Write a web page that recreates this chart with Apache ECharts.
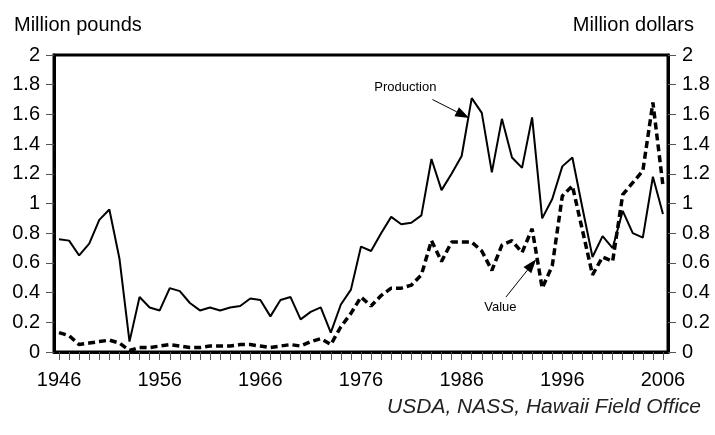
<!DOCTYPE html>
<html>
<head>
<meta charset="utf-8">
<script src="https://cdn.jsdelivr.net/npm/echarts@6/dist/echarts.min.js"></script>
<style>
html,body{margin:0;padding:0;background:#fff;}
#c{width:715px;height:435px;}
</style>
</head>
<body>
<div id="c"></div>
<script>
const years = ['1946','1947','1948','1949','1950','1951','1952','1953','1954','1955',
'1956','1957','1958','1959','1960','1961','1962','1963','1964','1965',
'1966','1967','1968','1969','1970','1971','1972','1973','1974','1975',
'1976','1977','1978','1979','1980','1981','1982','1983','1984','1985',
'1986','1987','1988','1989','1990','1991','1992','1993','1994','1995',
'1996','1997','1998','1999','2000','2001','2002','2003','2004','2005','2006'];

// Production, million pounds (left axis)
const production = [0.76,0.75,0.65,0.73,0.89,0.96,0.63,0.07,0.37,0.30,
0.28,0.43,0.41,0.33,0.28,0.30,0.28,0.30,0.31,0.36,
0.35,0.24,0.35,0.37,0.22,0.27,0.30,0.13,0.32,0.42,
0.71,0.68,0.80,0.91,0.86,0.87,0.92,1.30,1.09,1.20,
1.32,1.71,1.61,1.21,1.57,1.31,1.24,1.58,0.90,1.03,
1.25,1.31,0.97,0.64,0.78,0.70,0.95,0.80,0.77,1.18,0.93];

// Value, million dollars (right axis)
const value = [0.13,0.11,0.05,0.06,0.07,0.08,0.06,0.01,0.03,0.03,
0.04,0.05,0.04,0.03,0.03,0.04,0.04,0.04,0.05,0.05,
0.04,0.03,0.04,0.05,0.04,0.07,0.09,0.05,0.17,0.26,
0.37,0.31,0.38,0.43,0.43,0.45,0.52,0.75,0.61,0.74,
0.74,0.74,0.68,0.55,0.72,0.75,0.67,0.83,0.43,0.58,
1.05,1.12,0.82,0.52,0.64,0.61,1.06,1.14,1.22,1.68,1.12];

const yTicks = {min:0, max:2, interval:0.2};
const leftTitle = 'Million pounds';
const rightTitle = 'Million dollars';
const sourceText = 'USDA, NASS, Hawaii Field Office';

// annotations in data coordinates (fractional year, value)
const annotations = [
  {label:'Production', text:[1980.4,1.78], from:[1983.1,1.70], to:[1986.75,1.575]},
  {label:'Value', text:[1989.85,0.30], from:[1990.4,0.37], to:[1993.4,0.625]}
];

const FONT = '"Liberation Sans", Arial, Helvetica, sans-serif';
const chart = echarts.init(document.getElementById('c'), null, {renderer:'canvas'});

const yAxisCommon = {
  type:'value', min:yTicks.min, max:yTicks.max, interval:yTicks.interval,
  splitLine:{show:false},
  axisLine:{show:true, lineStyle:{color:'#000', width:3}},
  axisTick:{show:true, length:8, lineStyle:{color:'#555', width:1}},
  axisLabel:{color:'#000', fontSize:20, fontFamily:FONT, margin:14}
};

chart.setOption({
  animation:false,
  backgroundColor:'#fff',
  grid:{left:54, right:47, top:55, bottom:83, show:true, borderColor:'#000', borderWidth:3, backgroundColor:'transparent'},
  title:[
    {text:leftTitle, left:9, top:10, textStyle:{fontFamily:FONT, fontSize:20, fontWeight:'normal', color:'#000'}},
    {text:rightTitle, right:16, top:10, textStyle:{fontFamily:FONT, fontSize:20, fontWeight:'normal', color:'#000'}},
    {text:sourceText, right:9, top:392, textStyle:{fontFamily:FONT, fontSize:21, fontStyle:'italic', fontWeight:'normal', color:'#222'}}
  ],
  xAxis:{
    type:'category', data:years, boundaryGap:true,
    axisLine:{show:true, lineStyle:{color:'#000', width:3}},
    axisTick:{show:true, alignWithLabel:true, interval:0, length:8, lineStyle:{color:'#555', width:1}},
    axisLabel:{interval:9, color:'#000', fontSize:20, fontFamily:FONT, margin:18}
  },
  yAxis:[
    Object.assign({}, yAxisCommon, {position:'left'}),
    Object.assign({}, yAxisCommon, {position:'right'})
  ],
  series:[
    {type:'line', name:'Production', data:production, yAxisIndex:0, symbol:'none',
     lineStyle:{color:'#000', width:2}},
    {type:'line', name:'Value', data:value, yAxisIndex:1, symbol:'none',
     lineStyle:{color:'#000', width:3.5, type:[7,4]}}
  ]
});

function toPx(pt){
  const p0 = chart.convertToPixel({xAxisIndex:0, yAxisIndex:0}, [0, 0]);
  const p1 = chart.convertToPixel({xAxisIndex:0, yAxisIndex:0}, [years.length-1, 2]);
  const idx = pt[0] - Number(years[0]);
  return [p0[0] + (p1[0]-p0[0]) * idx/(years.length-1), p0[1] + (p1[1]-p0[1]) * pt[1]/2];
}

const gfx = [];
annotations.forEach(a => {
  const t = toPx(a.text), f = toPx(a.from), e = toPx(a.to);
  gfx.push({type:'text', x:t[0], y:t[1], style:{text:a.label, font:'13px '+FONT, fill:'#000', align:'center', verticalAlign:'middle'}});
  const dx = e[0]-f[0], dy = e[1]-f[1], L = Math.sqrt(dx*dx+dy*dy);
  const ux = dx/L, uy = dy/L, hl = 14, hw = 5;
  const bx = e[0]-ux*hl, by = e[1]-uy*hl;
  gfx.push({type:'line', shape:{x1:f[0], y1:f[1], x2:bx, y2:by}, style:{stroke:'#000', lineWidth:1}});
  gfx.push({type:'polygon', shape:{points:[[e[0],e[1]],[bx-uy*hw, by+ux*hw],[bx+uy*hw, by-ux*hw]]}, style:{fill:'#000'}});
});
chart.setOption({graphic:gfx});
</script>
</body>
</html>
